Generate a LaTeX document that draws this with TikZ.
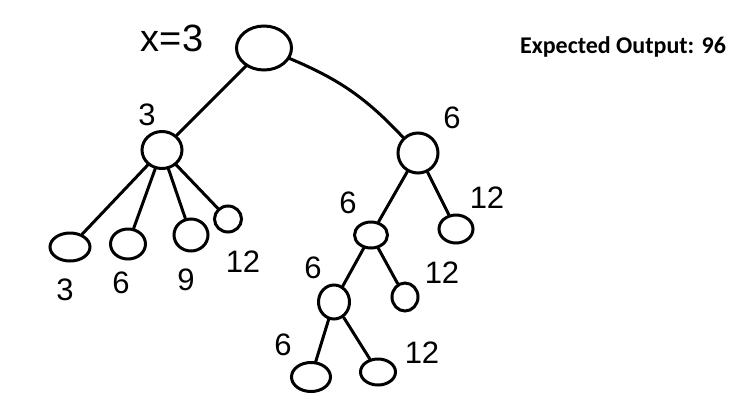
\documentclass[tikz,border=0pt]{standalone}
\usepackage{fontspec}
\setsansfont{Liberation Sans}
\newfontfamily\outfont{Carlito}
\usetikzlibrary{shapes.geometric}
\begin{document}
\begin{tikzpicture}[x=1pt, y=-1pt,
  vertex/.style={ellipse, draw, line width=3pt, inner sep=0pt},
  num/.style={font=\sffamily\fontsize{31}{31}\selectfont, inner sep=0pt},
  big/.style={font=\sffamily\fontsize{38}{38}\selectfont, inner sep=0pt},
  edge/.style={line width=3pt, line cap=round}
]
  \useasboundingbox (0,0) rectangle (742,416);

  \node[vertex, minimum width=55pt, minimum height=44pt] (root) at (264,48) {};
  \node[vertex, minimum width=40pt, minimum height=37pt] (l) at (162,150) {};
  \node[vertex, minimum width=40pt, minimum height=40pt] (r) at (418,153) {};
  \node[vertex, minimum width=40pt, minimum height=28pt] (a1) at (70,247) {};
  \node[vertex, minimum width=35pt, minimum height=30pt] (a2) at (128,244) {};
  \node[vertex, minimum width=34pt, minimum height=32pt] (a3) at (191,235) {};
  \node[vertex, minimum width=27pt, minimum height=26pt] (a4) at (228,219) {};
  \node[vertex, minimum width=33pt, minimum height=26pt] (b1) at (371,235) {};
  \node[vertex, minimum width=34pt, minimum height=28pt] (b2) at (456,229) {};
  \node[vertex, minimum width=31pt, minimum height=34pt] (c1) at (334,302) {};
  \node[vertex, minimum width=26pt, minimum height=28pt] (c2) at (405,297) {};
  \node[vertex, minimum width=39pt, minimum height=29pt] (d1) at (311,377) {};
  \node[vertex, minimum width=35pt, minimum height=26pt] (d2) at (378,372) {};

  \draw[edge] (root) -- (l);
  \draw[edge] (root) to[bend left=12] (r);
  \draw[edge] (l) -- (a1);
  \draw[edge] (l) -- (a2);
  \draw[edge] (l) -- (a3);
  \draw[edge] (l) -- (a4);
  \draw[edge] (r) -- (b1);
  \draw[edge] (r) -- (b2);
  \draw[edge] (b1) -- (c1);
  \draw[edge] (b1) -- (c2);
  \draw[edge] (c1) -- (d1);
  \draw[edge] (c1) -- (d2);

  \node[big] (xlab) at (172,38) {x=3};
  \node[num] (llab) at (147,115) {3};
  \node[num] (rlab) at (452,118) {6};
  \node[num] (a1lab) at (65,290) {3};
  \node[num] (a2lab) at (121,283) {6};
  \node[num] (a3lab) at (186,280) {9};
  \node[num] (a4lab) at (243,262) {12};
  \node[num] (b1lab) at (348,203) {6};
  \node[num] (b2lab) at (487,198) {12};
  \node[num] (c1lab) at (313,268) {6};
  \node[num] (c2lab) at (442,273) {12};
  \node[num] (d1lab) at (283,345) {6};
  \node[num] (d2lab) at (422,353) {12};

  \node[font=\outfont\bfseries\fontsize{24}{24}\selectfont, inner sep=0pt] (out) at (623,47) {Expected Output: 96};
\end{tikzpicture}
\end{document}
